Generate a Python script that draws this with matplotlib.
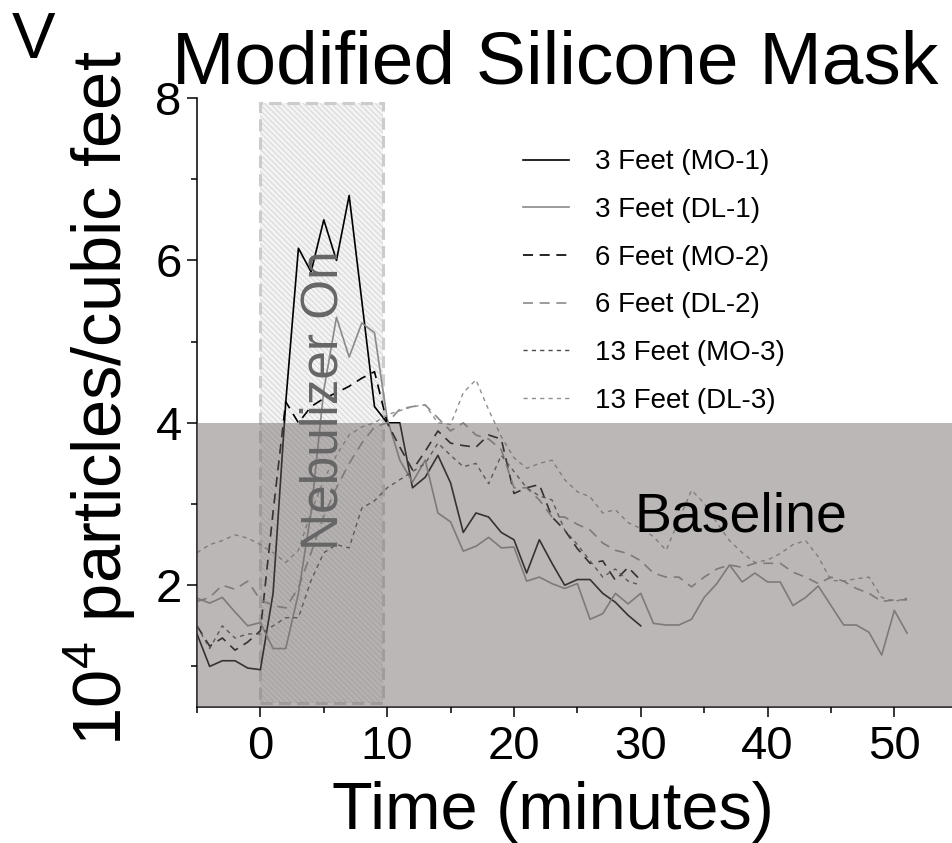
################################################################################
# Concentración de partículas - Mascarilla de silicona modificada
################################################################################

import numpy as np
import matplotlib.pyplot as plt
from matplotlib.patches import Rectangle

plt.rcParams['font.family'] = ['Liberation Sans', 'DejaVu Sans']
plt.rcParams['mathtext.fontset'] = 'custom'
plt.rcParams['mathtext.rm'] = 'Liberation Sans'
plt.rcParams['mathtext.it'] = 'Liberation Sans:italic'
plt.rcParams['hatch.linewidth'] = 0.6

################################################################################
# Datos (10^4 partículas por pie cúbico, una lectura por minuto)

t_mo = list(range(-5, 31))   # minutos, sensores MO
t_dl = list(range(-5, 52))   # minutos, sensores DL

mo1 = [1.40, 1.00, 1.07, 1.07, 0.98, 0.96,
       1.90, 4.25, 6.15, 5.86, 6.50, 6.00, 6.80, 5.50, 4.20, 4.00,
       4.00, 3.20, 3.33, 3.60, 3.26, 2.65, 2.89, 2.84, 2.65, 2.56,
       2.15, 2.56, 2.27, 2.00, 2.07, 2.07, 1.90, 1.79, 1.63, 1.50]

dl1 = [1.84, 1.78, 1.85, 1.67, 1.50, 1.54,
       1.22, 1.22, 1.90, 2.90, 4.40, 5.30, 4.81, 5.23, 5.11, 4.05,
       3.54, 3.27, 3.54, 2.89, 2.78, 2.42, 2.48, 2.59, 2.46, 2.47,
       2.05, 2.10, 2.02, 1.96, 2.02, 1.58, 1.65, 1.90, 1.77, 1.90,
       1.53, 1.51, 1.51, 1.58, 1.85, 2.02, 2.25, 2.04, 2.15, 2.04,
       2.04, 1.75, 1.85, 1.99, 1.75, 1.51, 1.51, 1.42, 1.14, 1.69, 1.41]

mo2 = [1.50, 1.25, 1.35, 1.20, 1.30, 1.44,
       2.90, 4.26, 4.00, 4.20, 4.30, 4.37, 4.45, 4.55, 4.63, 4.00,
       3.70, 3.42, 3.65, 3.90, 3.75, 3.72, 3.70, 3.85, 3.80, 3.13,
       3.20, 3.24, 2.84, 2.68, 2.45, 2.27, 2.30, 2.06, 2.22, 2.06]

dl2 = [1.80, 1.85, 2.00, 1.95, 2.05, 1.82,
       1.75, 1.72, 1.97, 2.40, 2.85, 3.20, 3.50, 3.75, 3.95, 4.00,
       4.17, 4.20, 4.22, 4.06, 3.90, 4.00, 3.85, 3.80, 3.67, 3.20,
       3.20, 3.05, 2.84, 2.84, 2.75, 2.68, 2.52, 2.43, 2.39, 2.30,
       2.15, 2.10, 2.10, 1.98, 2.10, 2.20, 2.25, 2.22, 2.27, 2.27,
       2.27, 2.16, 2.10, 2.02, 2.10, 2.05, 1.96, 1.90, 1.80, 1.82, 1.82]

mo3 = [1.50, 1.22, 1.50, 1.35, 1.40, 1.40,
       1.50, 1.60, 1.60, 2.06, 2.40, 2.50, 2.46, 2.95, 3.04, 3.20,
       3.30, 3.40, 3.50, 3.75, 3.60, 3.46, 3.50, 3.25, 3.60, 3.40,
       3.20, 3.10, 3.05, 2.68, 2.50, 2.30, 2.10, 2.20, 2.05, 2.00]

dl3 = [2.40, 2.50, 2.55, 2.62, 2.58, 2.50,
       2.40, 2.28, 2.43, 2.90, 3.30, 3.60, 3.85, 3.95, 4.00, 4.10,
       4.15, 4.20, 4.22, 4.00, 3.98, 4.37, 4.53, 4.16, 3.83, 3.57,
       3.44, 3.50, 3.54, 3.30, 3.15, 3.09, 2.89, 2.93, 2.77, 2.70,
       2.60, 2.43, 2.80, 3.17, 3.01, 2.77, 2.55, 2.40, 2.28, 2.31,
       2.39, 2.50, 2.55, 2.35, 2.06, 2.05, 2.08, 2.10, 1.85, 1.80, 1.84]

etiquetas = ['3 Feet (MO-1)', '3 Feet (DL-1)', '6 Feet (MO-2)',
             '6 Feet (DL-2)', '13 Feet (MO-3)', '13 Feet (DL-3)']

nebulizador = (0, 9.7)   # intervalo con el nebulizador encendido
linea_base = 4.0         # límite superior de la zona de referencia

################################################################################
# Figura

fig = plt.figure(figsize=(9.53, 8.43), dpi=100)
ax = fig.add_axes([0.2067, 0.1613, 0.7983, 0.7224])

# Caja del nebulizador (rayada) con borde punteado
ax.add_patch(Rectangle((nebulizador[0], 0.55), nebulizador[1] - nebulizador[0], 7.39,
                       facecolor='#f3f3f3', edgecolor='#d2d2d2', hatch='\\\\\\\\\\\\',
                       linewidth=0, zorder=1))
ax.add_patch(Rectangle((nebulizador[0], 0.55), nebulizador[1] - nebulizador[0], 7.39,
                       fill=False, edgecolor='#cccccc', linewidth=2.2,
                       linestyle=(0, (4, 2)), zorder=1.5))

# Series
ax.plot(t_mo, mo1, color='black', lw=1.2, zorder=2, label=etiquetas[0])
ax.plot(t_dl, dl1, color='#8a8a8a', lw=1.2, zorder=2, label=etiquetas[1])
ax.plot(t_mo, mo2, color='black', lw=1.2, ls=(0, (6, 4)), zorder=2, label=etiquetas[2])
ax.plot(t_dl, dl2, color='#8a8a8a', lw=1.2, ls=(0, (6, 4)), zorder=2, label=etiquetas[3])
ax.plot(t_mo, mo3, color='#4a4a4a', lw=1.0, ls=(0, (3, 3)), zorder=2, label=etiquetas[4])
ax.plot(t_dl, dl3, color='#8f8f8f', lw=1.0, ls=(0, (3, 3)), zorder=2, label=etiquetas[5])

# Zona de referencia (encima de las líneas, semitransparente)
ax.axhspan(0.5, linea_base, color='#736969', alpha=0.48, lw=0, zorder=3)

ax.text(5.05, 4.28, 'Nebulizer On', rotation=90, fontsize=37, color='#666666',
        ha='center', va='center', zorder=4)
ax.text(37.9, 2.84, 'Baseline', fontsize=40, color='black',
        ha='center', va='center', zorder=4)

ax.set_xlim(-5, 55)
ax.set_ylim(0.5, 8)
ax.set_xticks([0, 10, 20, 30, 40, 50])
ax.set_xticks([-5, 5, 15, 25, 35, 45], minor=True)
ax.set_yticks([2, 4, 6, 8])
ax.set_yticks([1, 3, 5, 7], minor=True)
ax.tick_params(which='major', length=7, width=1.1, labelsize=34, pad=6)
ax.tick_params(axis='y', which='major', pad=4)
ax.tick_params(which='minor', length=4.5, width=1.1)
for lado in ['top', 'right']:
    ax.spines[lado].set_visible(False)
for lado in ['left', 'bottom']:
    ax.spines[lado].set_linewidth(1.1)

# Leyenda sin marco
leg = ax.legend(loc='upper left', bbox_to_anchor=(0.396, 0.957), frameon=False,
                fontsize=20, handlelength=1.65, handletextpad=0.95, labelspacing=0.78)

# Textos de la figura
fig.text(553 / 953, 1 - 829 / 843, 'Time (minutes)', fontsize=48,
         ha='center', va='baseline')
fig.text(100 / 953, 1 - 398 / 843, r'$\mathregular{10^4}$ particles/cubic feet',
         fontsize=49.5, rotation=90, ha='center', va='center')
fig.text(555 / 953, 1 - 83 / 843, 'Modified Silicone Mask', fontsize=54,
         ha='center', va='baseline')
fig.text(12 / 953, 1 - 58 / 843, 'V', fontsize=47, ha='left', va='baseline')

fig.savefig('out.png', dpi=100)
